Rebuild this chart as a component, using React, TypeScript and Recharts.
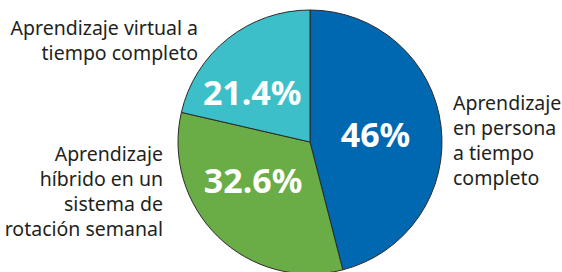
import { Pie, PieChart, Cell } from 'recharts'

const names = [
  ['Aprendizaje', 'en persona', 'a tiempo', 'completo'],
  ['Aprendizaje', 'híbrido en un', 'sistema de', 'rotación semanal'],
  ['Aprendizaje virtual a', 'tiempo completo'],
]
const values = [46, 32.6, 21.4]
const valueLabels = ['46%', '32.6%', '21.4%']
const colors = ['#0068B1', '#6AAC45', '#3CBFC9']

// where each label sits, relative to the pie centre
const pctPos = [
  { angle: 7, r: 0.5 },
  { angle: -146, r: 0.52 },
  { angle: 139, r: 0.58 },
]
const namePos = [
  { dx: 143, dy: -40, anchor: 'start' },
  { dx: -147, dy: 11, anchor: 'end' },
  { dx: -112, dy: -115, anchor: 'end' },
]
const lineH = 25
const data = values.map((v, i) => ({ name: names[i].join(' '), value: v }))

const RAD = Math.PI / 180

function SliceLabel(props: any) {
  const { cx, cy, outerRadius, index } = props
  const p = pctPos[index]
  const x = cx + outerRadius * p.r * Math.cos(p.angle * RAD)
  const y = cy - outerRadius * p.r * Math.sin(p.angle * RAD)
  const n = namePos[index]
  return (
    <g>
      <text x={x} y={y} textAnchor="middle" dominantBaseline="central" fill="#fff"
        style={{ fontFamily: 'Noto Sans', fontWeight: 700, fontSize: 34 }}>
        {valueLabels[index]}
      </text>
      <text textAnchor={n.anchor} fill="#231F20" style={{ fontFamily: 'Noto Sans', fontSize: 19.5 }}>
        {names[index].map((line, k) => (
          <tspan key={k} x={cx + n.dx} y={cy + n.dy + k * lineH} dominantBaseline="central">{line}</tspan>
        ))}
      </text>
    </g>
  )
}

export default function App() {
  return (
    <div style={{ position: 'absolute', left: 0, top: 0, width: 562, height: 272, background: '#fff' }}>
      <PieChart width={562} height={272} margin={{ top: 0, right: 0, bottom: 0, left: 0 }}>
        <Pie data={data} dataKey="value" cx={310} cy={142} outerRadius={132} startAngle={90} endAngle={-270}
          stroke="#2b2b2b" strokeWidth={1} label={SliceLabel} labelLine={false} isAnimationActive={false}>
          {data.map((d, i) => <Cell key={d.name} fill={colors[i]} />)}
        </Pie>
      </PieChart>
    </div>
  )
}
